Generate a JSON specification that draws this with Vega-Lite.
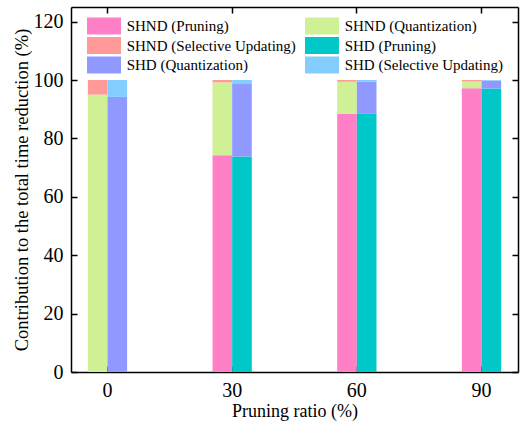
{
  "$schema": "https://vega.github.io/schema/vega-lite/v6.json",
  "width": 447,
  "height": 365,
  "autosize": "none",
  "padding": {"left": 71, "top": 7, "right": 10, "bottom": 49},
  "background": "white",
  "config": {
    "view": {"stroke": null},
    "font": "Liberation Serif",
    "axis": {
      "domainColor": "black", "domainWidth": 1.5,
      "tickColor": "black", "tickWidth": 1.5, "tickSize": -6,
      "labelFont": "Liberation Serif", "labelFontSize": 20, "labelColor": "black",
      "titleFont": "Liberation Serif", "titleFontSize": 18, "titleFontWeight": "normal", "titleColor": "black",
      "grid": false
    }
  },
  "data": {"values": [
    {"ratio": 0, "method": "SHND", "component": "Pruning", "series": "SHND (Pruning)", "value": 0},
    {"ratio": 0, "method": "SHND", "component": "Quantization", "series": "SHND (Quantization)", "value": 95.0},
    {"ratio": 0, "method": "SHND", "component": "Selective Updating", "series": "SHND (Selective Updating)", "value": 5.0},
    {"ratio": 0, "method": "SHD", "component": "Pruning", "series": "SHD (Pruning)", "value": 0},
    {"ratio": 0, "method": "SHD", "component": "Quantization", "series": "SHD (Quantization)", "value": 94.2},
    {"ratio": 0, "method": "SHD", "component": "Selective Updating", "series": "SHD (Selective Updating)", "value": 5.8},
    {"ratio": 30, "method": "SHND", "component": "Pruning", "series": "SHND (Pruning)", "value": 74.2},
    {"ratio": 30, "method": "SHND", "component": "Quantization", "series": "SHND (Quantization)", "value": 25.0},
    {"ratio": 30, "method": "SHND", "component": "Selective Updating", "series": "SHND (Selective Updating)", "value": 0.8},
    {"ratio": 30, "method": "SHD", "component": "Pruning", "series": "SHD (Pruning)", "value": 73.8},
    {"ratio": 30, "method": "SHD", "component": "Quantization", "series": "SHD (Quantization)", "value": 24.8},
    {"ratio": 30, "method": "SHD", "component": "Selective Updating", "series": "SHD (Selective Updating)", "value": 1.4},
    {"ratio": 60, "method": "SHND", "component": "Pruning", "series": "SHND (Pruning)", "value": 88.4},
    {"ratio": 60, "method": "SHND", "component": "Quantization", "series": "SHND (Quantization)", "value": 11.0},
    {"ratio": 60, "method": "SHND", "component": "Selective Updating", "series": "SHND (Selective Updating)", "value": 0.6},
    {"ratio": 60, "method": "SHD", "component": "Pruning", "series": "SHD (Pruning)", "value": 88.4},
    {"ratio": 60, "method": "SHD", "component": "Quantization", "series": "SHD (Quantization)", "value": 11.1},
    {"ratio": 60, "method": "SHD", "component": "Selective Updating", "series": "SHD (Selective Updating)", "value": 0.5},
    {"ratio": 90, "method": "SHND", "component": "Pruning", "series": "SHND (Pruning)", "value": 97.2},
    {"ratio": 90, "method": "SHND", "component": "Quantization", "series": "SHND (Quantization)", "value": 2.3},
    {"ratio": 90, "method": "SHND", "component": "Selective Updating", "series": "SHND (Selective Updating)", "value": 0.5},
    {"ratio": 90, "method": "SHD", "component": "Pruning", "series": "SHD (Pruning)", "value": 97.1},
    {"ratio": 90, "method": "SHD", "component": "Quantization", "series": "SHD (Quantization)", "value": 2.7},
    {"ratio": 90, "method": "SHD", "component": "Selective Updating", "series": "SHD (Selective Updating)", "value": 0.2}
  ]},
  "layer": [
    {
      "mark": {"type": "bar"},
      "encoding": {
        "x": {"field": "ratio", "type": "ordinal", "scale": {"paddingInner": 0.685, "paddingOuter": 0.135},
              "axis": {"orient": "bottom", "title": "Pruning ratio (%)", "labelAngle": 0, "labelPadding": 14, "titlePadding": 2}},
        "xOffset": {"field": "method", "sort": ["SHND", "SHD"], "scale": {"paddingInner": 0, "paddingOuter": 0}},
        "y": {"field": "value", "type": "quantitative", "stack": "zero", "scale": {"domain": [0, 125], "nice": false},
              "axis": {"orient": "left", "values": [0, 20, 40, 60, 80, 100, 120], "title": "Contribution to the total time reduction (%)", "labelPadding": 14, "titlePadding": 2, "titleFontSize": 18.5}},
        "color": {"field": "series", "type": "nominal",
          "scale": {"domain": ["SHND (Pruning)", "SHND (Quantization)", "SHND (Selective Updating)", "SHD (Pruning)", "SHD (Quantization)", "SHD (Selective Updating)"],
                    "range": ["#FF80C6", "#D0F096", "#FF9A98", "#00C8C8", "#9099FF", "#84CEFF"]},
          "legend": {"orient": "none", "legendX": 24.5, "legendY": 10.5, "columns": 2, "direction": "horizontal", "title": null, "padding": 0,
                     "symbolType": "M-2,-1H2V1H-2Z", "symbolSize": 289, "symbolStrokeWidth": 0, "symbolOpacity": 1,
                     "labelFont": "Liberation Serif", "labelFontSize": 15, "labelColor": "black", "labelOffset": 14.2, "labelLimit": 0,
                     "columnPadding": 8, "rowPadding": 2.5}},
        "order": {"field": "component"}
      }
    },
    {
      "mark": {"type": "bar", "opacity": 0},
      "encoding": {
        "x": {"field": "ratio", "type": "ordinal", "axis": {"orient": "top", "title": null, "labels": false}},
        "xOffset": {"field": "method", "sort": ["SHND", "SHD"]},
        "y": {"field": "value", "type": "quantitative", "stack": "zero", "axis": {"orient": "right", "values": [0, 20, 40, 60, 80, 100, 120], "title": null, "labels": false}},
        "color": {"field": "series", "type": "nominal"},
        "order": {"field": "component"}
      }
    }
  ],
  "resolve": {"axis": {"x": "independent", "y": "independent"}}
}
